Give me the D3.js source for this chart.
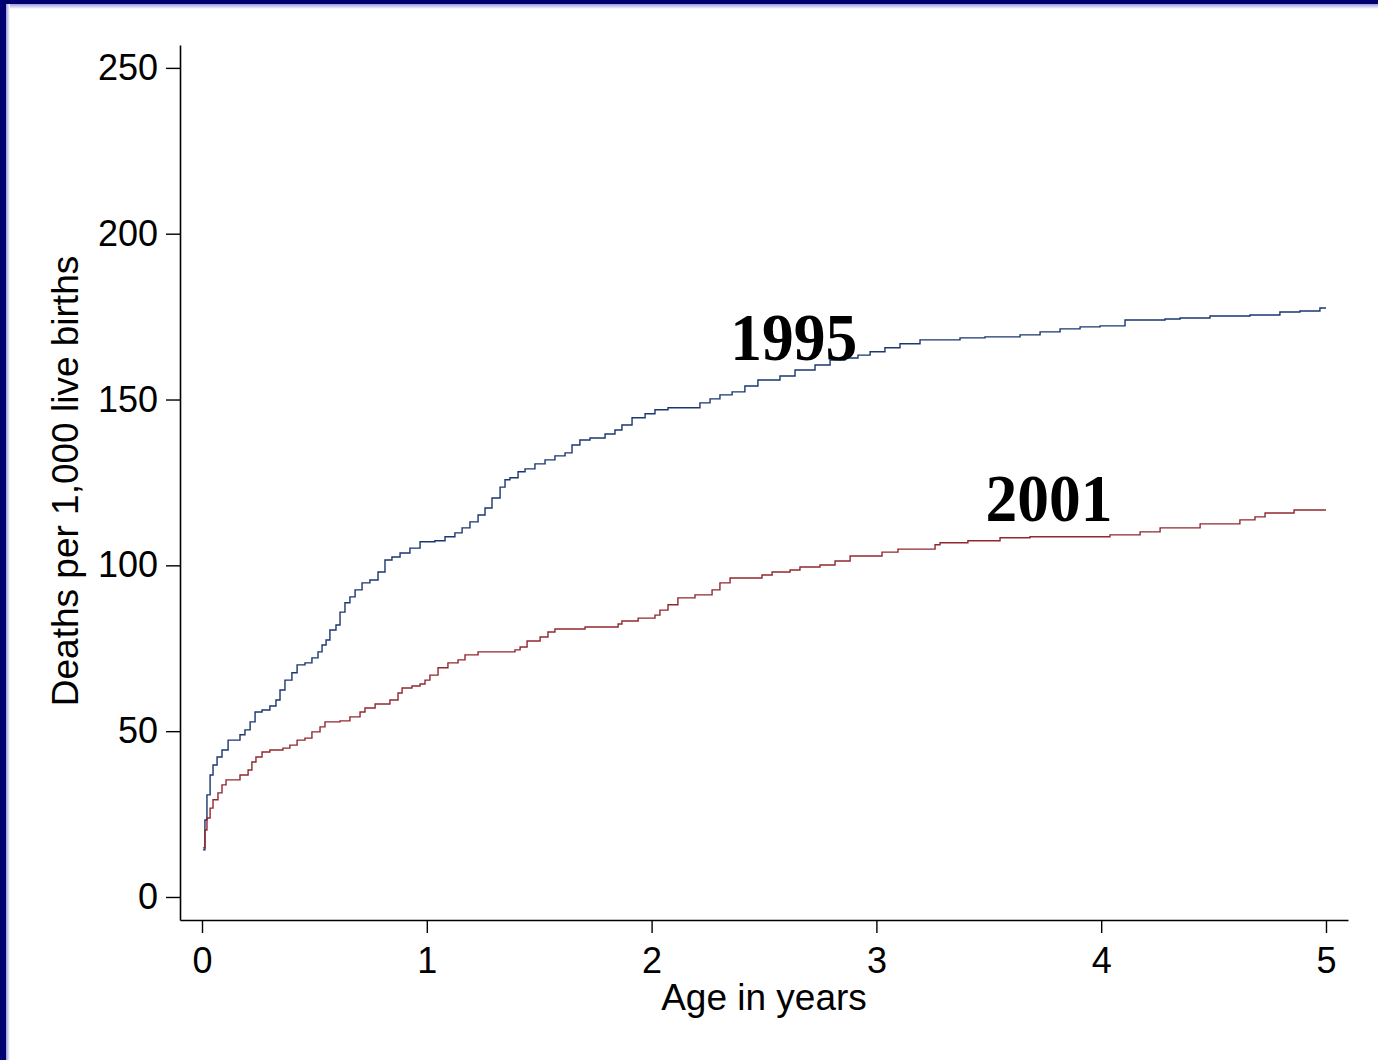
<!DOCTYPE html>
<html>
<head>
<meta charset="utf-8">
<script src="https://cdn.jsdelivr.net/npm/d3@7"></script>
<style>
  html, body { margin: 0; padding: 0; background: #ffffff; }
  svg { display: block; }
</style>
</head>
<body>
<svg id="chart" width="1378" height="1060"></svg>
<script>
// Cumulative under-five mortality (Kaplan-Meier style step curves)
const ages1995 = [0.004,0.013,0.022,0.036,0.049,0.067,0.089,0.116,0.169,0.191,0.214,0.236,0.267,0.302,0.329,0.347,0.369,0.400,0.423,0.458,0.489,0.516,0.534,0.552,0.569,0.596,0.614,0.636,0.658,0.681,0.712,0.747,0.783,0.814,0.845,0.881,0.925,0.970,1.036,1.081,1.125,1.157,1.192,1.228,1.259,1.290,1.326,1.348,1.370,1.406,1.437,1.481,1.526,1.570,1.615,1.646,1.681,1.726,1.793,1.837,1.868,1.913,1.971,2.015,2.073,2.215,2.260,2.304,2.358,2.415,2.473,2.571,2.638,2.727,2.794,2.860,2.918,2.972,3.038,3.105,3.194,3.372,3.483,3.639,3.728,3.817,3.906,3.995,4.106,4.284,4.351,4.484,4.662,4.795,4.884,4.973,5.000];
const deaths1995 = [14.2,23.2,30.8,36.8,39.8,42.2,44.3,47.3,48.9,50.4,52.8,55.8,56.4,57.6,59.4,62.4,65.4,67.6,70.0,70.6,72.1,73.9,76.0,77.5,80.5,82.0,85.9,88.7,90.5,92.6,94.7,95.6,98.0,101.6,102.5,103.7,105.2,107.1,107.4,108.6,109.8,111.3,113.1,115.2,117.3,120.3,123.6,125.8,126.4,128.2,129.1,130.6,131.8,133.0,133.9,136.3,137.8,138.4,139.6,140.8,142.3,144.5,145.7,146.9,147.5,149.0,150.2,151.4,152.3,154.1,155.9,157.1,158.9,160.4,161.9,162.5,163.4,164.4,165.6,166.8,168.0,168.6,168.9,169.5,170.4,171.3,171.9,172.2,174.0,174.3,174.6,175.2,175.5,176.4,176.7,177.6,177.6];

const ages2001 = [0.004,0.013,0.022,0.036,0.049,0.071,0.089,0.107,0.169,0.205,0.222,0.240,0.267,0.302,0.360,0.391,0.423,0.458,0.489,0.525,0.547,0.614,0.658,0.703,0.725,0.770,0.836,0.872,0.890,0.934,0.970,0.992,1.014,1.050,1.094,1.139,1.170,1.228,1.392,1.415,1.446,1.504,1.539,1.570,1.704,1.851,1.868,1.940,2.015,2.037,2.073,2.117,2.193,2.269,2.304,2.349,2.491,2.536,2.616,2.660,2.749,2.816,2.883,3.025,3.096,3.261,3.283,3.407,3.550,3.683,4.039,4.173,4.262,4.440,4.617,4.684,4.729,4.858,5.000];
const deaths2001 = [14.8,20.2,23.8,26.8,29.3,31.4,33.8,35.3,36.8,38.3,40.7,42.2,43.7,44.3,44.9,45.8,47.3,47.9,49.8,51.3,52.8,53.1,54.3,55.8,57.0,58.2,59.4,61.5,63.0,63.6,64.2,65.4,66.9,69.1,70.6,71.5,73.0,73.9,74.5,75.4,77.2,78.4,79.9,80.8,81.4,82.3,83.2,84.1,85.0,86.5,88.1,90.2,91.1,92.6,94.7,96.2,97.1,98.0,98.6,99.5,100.1,101.3,102.8,104.0,104.9,106.2,106.8,107.4,108.3,108.6,109.2,110.1,111.3,112.5,113.7,114.6,115.8,116.7,116.7];

const xTicks = [0, 1, 2, 3, 4, 5];
const yTicks = [0, 50, 100, 150, 200, 250];
const seriesNames = ["1995", "2001"];
const yTitle = "Deaths per 1,000 live births";
const xTitle = "Age in years";

const svg = d3.select("#chart");
const W = 1378, H = 1060;

// Frame: dark navy band along the top and left edges with a soft inner fade
const defs = svg.append("defs");
const gTop = defs.append("linearGradient").attr("id", "fadeTop")
  .attr("x1", 0).attr("y1", 0).attr("x2", 0).attr("y2", 1);
gTop.append("stop").attr("offset", "0%").attr("stop-color", "#9a9ae0");
gTop.append("stop").attr("offset", "100%").attr("stop-color", "#ffffff");
const gLeft = defs.append("linearGradient").attr("id", "fadeLeft")
  .attr("x1", 0).attr("y1", 0).attr("x2", 1).attr("y2", 0);
gLeft.append("stop").attr("offset", "0%").attr("stop-color", "#9a9ae0");
gLeft.append("stop").attr("offset", "100%").attr("stop-color", "#ffffff");

svg.append("rect").attr("x", 0).attr("y", 0).attr("width", W).attr("height", H).attr("fill", "#ffffff");
svg.append("rect").attr("x", 0).attr("y", 4).attr("width", W).attr("height", 5).attr("fill", "url(#fadeTop)");
svg.append("rect").attr("x", 6).attr("y", 0).attr("width", 4).attr("height", H).attr("fill", "url(#fadeLeft)");
svg.append("rect").attr("x", 0).attr("y", 0).attr("width", W).attr("height", 4).attr("fill", "#000070");
svg.append("rect").attr("x", 0).attr("y", 0).attr("width", 6).attr("height", H).attr("fill", "#000070");

// Scales: axis lines run slightly past the first/last ticks
const x = d3.scaleLinear().domain([-0.0979, 5.0979]).range([180, 1348]);
const y = d3.scaleLinear().domain([-6.94, 256.9]).range([920, 45]);

const font = "'Liberation Sans', Arial, Helvetica, sans-serif";

const xAxis = svg.append("g")
  .attr("transform", `translate(0,${y(-6.94)})`)
  .call(d3.axisBottom(x).tickValues(xTicks).tickFormat(d3.format("d"))
    .tickSizeInner(13).tickSizeOuter(0).tickPadding(14));
const yAxis = svg.append("g")
  .attr("transform", `translate(${x(-0.0979)},0)`)
  .call(d3.axisLeft(y).tickValues(yTicks).tickFormat(d3.format("d"))
    .tickSizeInner(14).tickSizeOuter(0).tickPadding(8));

[xAxis, yAxis].forEach(g => {
  g.select(".domain").attr("stroke", "#000").attr("stroke-width", 1.6);
  g.selectAll(".tick line").attr("stroke", "#000").attr("stroke-width", 1.4);
  g.selectAll(".tick text").attr("fill", "#000")
    .style("font-family", font).style("font-size", "36px");
});

// Axis titles
svg.append("text")
  .attr("transform", `translate(78,481) rotate(-90)`)
  .attr("text-anchor", "middle")
  .style("font-family", font).style("font-size", "37px")
  .attr("fill", "#000").text(yTitle);
svg.append("text")
  .attr("x", 764).attr("y", 1010)
  .attr("text-anchor", "middle")
  .style("font-family", font).style("font-size", "37px")
  .attr("fill", "#000").text(xTitle);

// Step curves
const line = d3.line()
  .x(d => x(d[0]))
  .y(d => y(d[1]))
  .curve(d3.curveStepAfter);

const series = [
  { name: seriesNames[0], data: d3.zip(ages1995, deaths1995), color: "#1a376f" },
  { name: seriesNames[1], data: d3.zip(ages2001, deaths2001), color: "#90282f" }
];

series.forEach(s => {
  svg.append("path")
    .datum(s.data)
    .attr("fill", "none")
    .attr("stroke", s.color)
    .attr("stroke-width", 1.4)
    .attr("d", line);
});

// Series labels placed by the curves
const labelPos = [
  { name: seriesNames[0], age: 2.35, val: 162 },
  { name: seriesNames[1], age: 3.485, val: 113.5 }
];
labelPos.forEach(l => {
  svg.append("text")
    .attr("x", x(l.age)).attr("y", y(l.val))
    .attr("textLength", 127).attr("lengthAdjust", "spacingAndGlyphs")
    .style("font-family", "'Liberation Serif', 'Times New Roman', serif")
    .style("font-weight", "bold").style("font-size", "68px")
    .attr("fill", "#000").text(l.name);
});
</script>
</body>
</html>
